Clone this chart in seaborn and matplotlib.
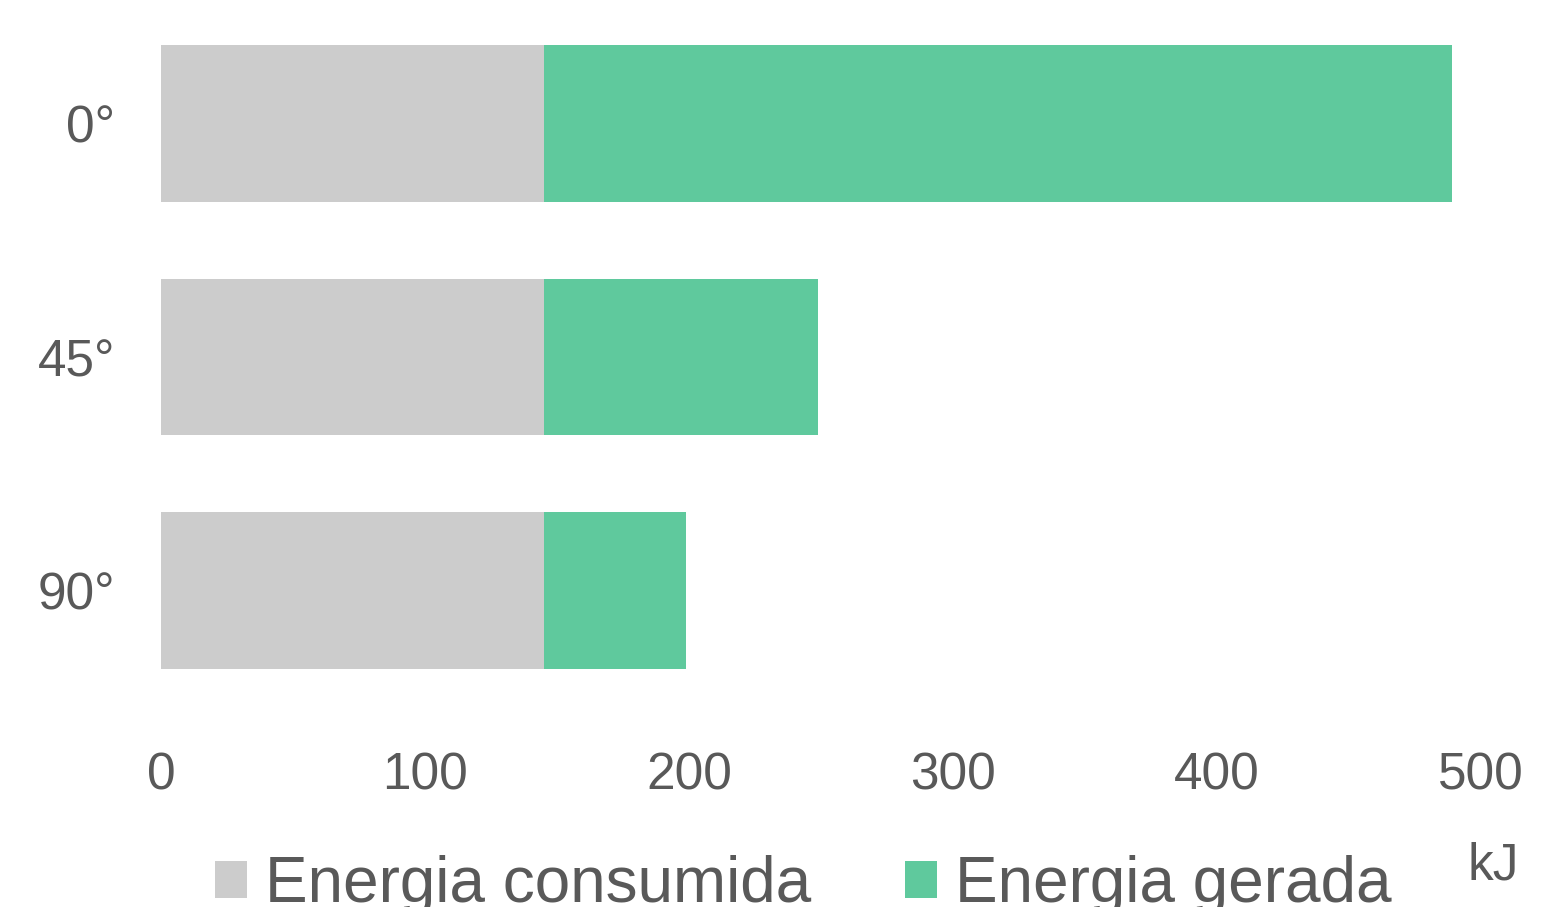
import matplotlib
matplotlib.use("Agg")
import matplotlib.pyplot as plt
import seaborn as sns
import pandas as pd
from matplotlib.patches import Patch

categories = ["0°", "45°", "90°"]
consumida = [145, 145, 145]
gerada = [344, 104, 54]
ticks = [0, 100, 200, 300, 400, 500]

sns.set_style("white")
plt.rcParams['font.family'] = ['Liberation Sans', 'DejaVu Sans']
TXT = "#595959"
GRAY = "#cccccc"
GREEN = "#5fc99d"

df = pd.DataFrame({"cat": categories, "consumida": consumida,
                   "total": [c + g for c, g in zip(consumida, gerada)]})

fig = plt.figure(figsize=(15.46, 9.07), dpi=100)
ax = fig.add_axes([161/1546, 1-707.5/907, (1481-161)/1546, (707.5-6.5)/907])

sns.barplot(data=df, y="cat", x="total", color=GREEN, width=0.67, ax=ax,
            saturation=1, orient="h", linewidth=0)
sns.barplot(data=df, y="cat", x="consumida", color=GRAY, width=0.67, ax=ax,
            saturation=1, orient="h", linewidth=0)

ax.set_xlim(0, 500)
ax.set_xticks(ticks)
ax.set_xticklabels([str(t) for t in ticks])
ax.set_xlabel("")
ax.set_ylabel("")
for s in ax.spines.values():
    s.set_visible(False)
ax.tick_params(axis="x", length=0, pad=32, labelsize=37, labelcolor=TXT)
ax.tick_params(axis="y", length=0, pad=33, labelsize=37, labelcolor=TXT)

handles = [Patch(facecolor=GRAY, edgecolor="none", label="Energia consumida"),
           Patch(facecolor=GREEN, edgecolor="none", label="Energia gerada")]
leg = fig.legend(handles=handles, loc="center left", bbox_to_anchor=(215/1546, 1-885/907),
                 ncol=2, frameon=False, fontsize=46, handlelength=0.5, handleheight=0.5,
                 handletextpad=0.28, columnspacing=1.47, borderaxespad=0, borderpad=0)
for t in leg.get_texts():
    t.set_color(TXT)

fig.text(1493/1546, 1-866/907, "kJ", ha="center", va="center", fontsize=37, color=TXT)

fig.savefig("out.png", dpi=100)
